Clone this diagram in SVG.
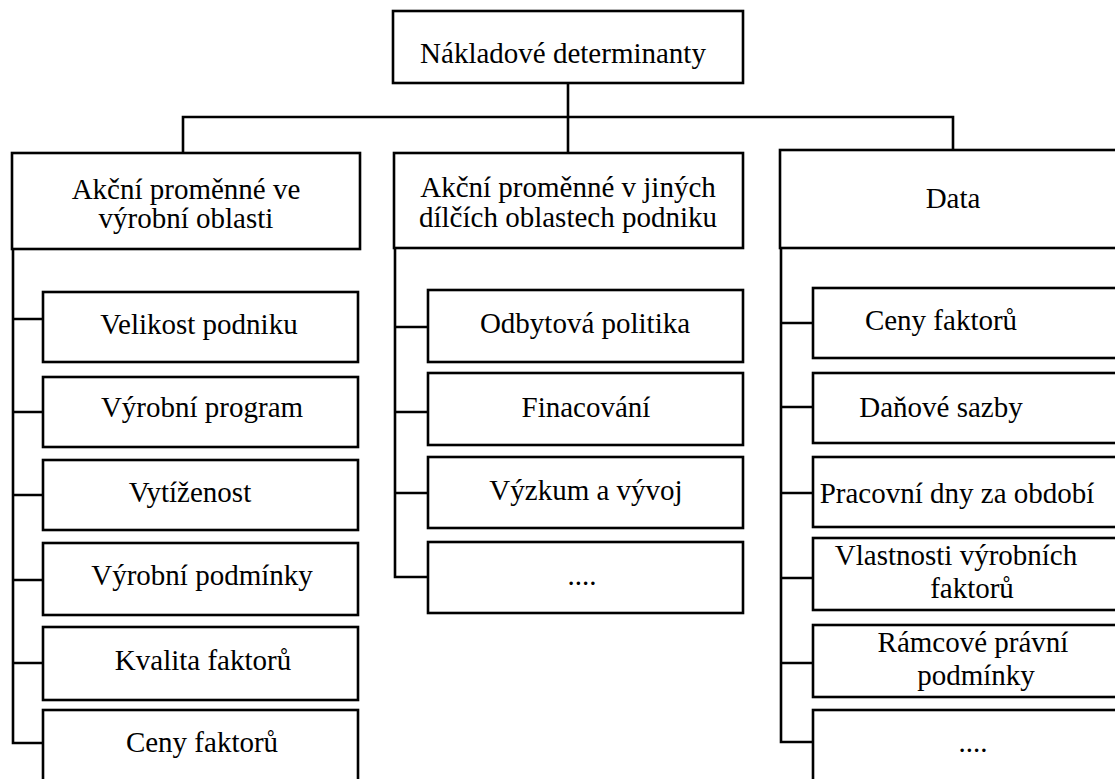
<svg xmlns="http://www.w3.org/2000/svg" width="1115" height="779" viewBox="0 0 1115 779">
<style>
.b{fill:#fff;stroke:#000;stroke-width:2.6}
.c{fill:none;stroke:#000;stroke-width:2.6}
text{font-family:"Liberation Serif","Times New Roman",serif;font-size:29px;fill:#000;text-anchor:middle}
</style>
<rect width="1115" height="779" fill="#fff"/>
<g id="connectors">
<path class="c" d="M568 83V153M183 153V117H953V150"/>
<path class="c" d="M13 249V743H43M13 319H43M13 412H43M13 495H43M13 580H43M13 663H43"/>
<path class="c" d="M395 248V577H428M395 327H428M395 412H428M395 493H428"/>
<path class="c" d="M781 248V742H813M781 323H813M781 407H813M781 493H813M781 578H813M781 663H813"/>
</g>
<g id="root"><rect class="b" x="393" y="11" width="350" height="72"/><text x="563" y="63">Nákladové determinanty</text></g>
<g id="vyrobni"><rect class="b" x="12" y="153" width="348" height="96"/><text x="186" y="199">Akční proměnné ve</text><text x="186" y="228">výrobní oblasti</text></g>
<g id="jine"><rect class="b" x="394" y="153" width="349" height="95"/><text x="568" y="197">Akční proměnné v jiných</text><text x="568" y="227">dílčích oblastech podniku</text></g>
<g id="data"><rect class="b" x="780" y="150" width="350" height="98"/><text x="953" y="208">Data</text></g>
<g id="l1"><rect class="b" x="43" y="292" width="315" height="70"/><text x="199" y="334">Velikost podniku</text></g>
<g id="l2"><rect class="b" x="43" y="377" width="315" height="70"/><text x="202" y="417">Výrobní program</text></g>
<g id="l3"><rect class="b" x="43" y="460" width="315" height="70"/><text x="190" y="502">Vytíženost</text></g>
<g id="l4"><rect class="b" x="43" y="543" width="315" height="72"/><text x="202" y="585">Výrobní podmínky</text></g>
<g id="l5"><rect class="b" x="43" y="627" width="315" height="73"/><text x="203" y="670">Kvalita faktorů</text></g>
<g id="l6"><rect class="b" x="43" y="710" width="315" height="90"/><text x="202" y="752">Ceny faktorů</text></g>
<g id="m1"><rect class="b" x="428" y="290" width="315" height="72"/><text x="585" y="333">Odbytová politika</text></g>
<g id="m2"><rect class="b" x="428" y="373" width="315" height="72"/><text x="586" y="417">Finacování</text></g>
<g id="m3"><rect class="b" x="428" y="457" width="315" height="71"/><text x="586" y="500">Výzkum a vývoj</text></g>
<g id="m4"><rect class="b" x="428" y="542" width="315" height="71"/><text x="582" y="585">....</text></g>
<g id="r1"><rect class="b" x="813" y="288" width="320" height="70"/><text x="941" y="330">Ceny faktorů</text></g>
<g id="r2"><rect class="b" x="813" y="373" width="320" height="70"/><text x="941" y="417">Daňové sazby</text></g>
<g id="r3"><rect class="b" x="813" y="457" width="320" height="70"/><text x="957" y="503">Pracovní dny za období</text></g>
<g id="r4"><rect class="b" x="813" y="538" width="320" height="72"/><text x="956" y="565">Vlastnosti výrobních</text><text x="972" y="598">faktorů</text></g>
<g id="r5"><rect class="b" x="813" y="625" width="320" height="72"/><text x="973" y="652">Rámcové právní</text><text x="976" y="685">podmínky</text></g>
<g id="r6"><rect class="b" x="813" y="710" width="320" height="90"/><text x="973" y="752">....</text></g>
</svg>
